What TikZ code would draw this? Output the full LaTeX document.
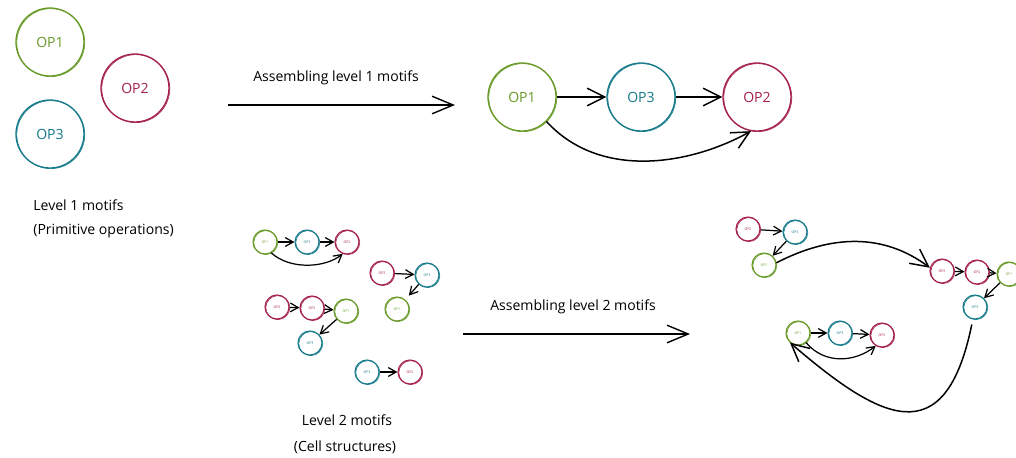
\documentclass[tikz,border=0pt]{standalone}
\usepackage{fontspec}
\setmainfont{Open Sans}
\usetikzlibrary{arrows.meta}
\definecolor{opgreen}{RGB}{104,154,40}
\definecolor{opred}{RGB}{164,32,78}
\definecolor{opteal}{RGB}{22,122,138}
\tikzset{
  op/.style={circle, draw=#1, text=#1, inner sep=0pt,
    postaction={draw=#1, line width=0.35pt, transform canvas={shift={(0.45pt,-0.35pt)}}}},
  bigop/.style={op=#1, minimum size=1.36cm, line width=0.75pt, font=\fontsize{8}{9.5}\selectfont},
  smallop/.style={op=#1, minimum size=0.48cm, line width=0.65pt, font=\fontsize{2}{2.4}\selectfont},
  lbl/.style={font=\fontsize{8}{9.5}\selectfont, text=black, inner sep=0pt},
  bigarrow/.style={line width=0.8pt, -{Straight Barb[length=12pt,width=10pt]}},
  midarrow/.style={line width=0.85pt, -{Straight Barb[length=10pt,width=10pt]}},
  tinyarrow/.style={line width=0.7pt, -{Straight Barb[length=4.5pt,width=5pt]}},
}
\begin{document}
\begin{tikzpicture}[x=0.02cm,y=-0.02cm]
\useasboundingbox (0,0) rectangle (1016,457);
% level 1 primitive ops
\node[bigop=opgreen] (p1) at (50,42) {OP1};
\node[bigop=opred] (p2) at (135,88) {OP2};
\node[bigop=opteal] (p3) at (50,134) {OP3};
\node[lbl, anchor=west] (l1a) at (33,205) {Level 1 motifs};
\node[lbl, anchor=west] (l1b) at (33,231) {(Primitive operations)};
% assembling level 1
\coordinate (a1s) at (228,105);
\coordinate (a1e) at (455,105);
\draw[bigarrow] (a1s) -- (a1e);
\node[lbl] (a1l) at (336,78) {Assembling level 1 motifs};
% level 1 motif assembled
\node[bigop=opgreen] (t1) at (522,97) {OP1};
\node[bigop=opteal] (t3) at (641,97) {OP3};
\node[bigop=opred] (t2) at (757,97) {OP2};
\draw[midarrow] (t1) -- (t3);
\draw[midarrow] (t3) -- (t2);
\draw[midarrow] (t1.-45) .. controls (600,180) and (690,165) .. (t2.-100);
% level 2 motifs (left)
\node[smallop=opgreen] (m1) at (265,242) {OP1};
\node[smallop=opteal] (m2) at (307,242) {OP3};
\node[smallop=opred] (m3) at (347,242) {OP2};
\draw[tinyarrow] (m1) -- (m2);
\draw[tinyarrow] (m2) -- (m3);
\draw[tinyarrow] (m1.-60) .. controls (290,270) and (325,268) .. (m3.-110);
\node[smallop=opred] (n1) at (382,273) {OP2};
\node[smallop=opteal] (n2) at (427,275) {OP3};
\node[smallop=opgreen] (n3) at (397,309) {OP1};
\draw[tinyarrow] (n1) -- (n2);
\draw[tinyarrow, shorten >=3pt] (n2) -- (n3);
\node[smallop=opred] (k1) at (277,307) {OP2};
\node[smallop=opred] (k2) at (312,308) {OP2};
\node[smallop=opgreen] (k3) at (346,311) {OP1};
\node[smallop=opteal] (k4) at (310,343) {OP3};
\draw[tinyarrow] (k1) -- (k2);
\draw[tinyarrow] (k2) -- (k3);
\draw[tinyarrow] (k3) -- (k4);
\node[smallop=opteal] (j1) at (367,372) {OP3};
\node[smallop=opred] (j2) at (410,372) {OP2};
\draw[tinyarrow] (j1) -- (j2);
\node[lbl] (l2a) at (347,420) {Level 2 motifs};
\node[lbl] (l2b) at (345,447) {(Cell structures)};
% assembling level 2
\coordinate (a2s) at (463,334);
\coordinate (a2e) at (690,334);
\draw[bigarrow] (a2s) -- (a2e);
\node[lbl] (a2l) at (573,307) {Assembling level 2 motifs};
% level 2 assembled
\node[smallop=opred] (r1) at (748,229) {OP2};
\node[smallop=opteal] (r2) at (795,232) {OP3};
\node[smallop=opgreen] (r3) at (764,265) {OP1};
\draw[tinyarrow] (r1) -- (r2);
\draw[tinyarrow] (r2) -- (r3);
\node[smallop=opred] (s1) at (942,271) {OP2};
\node[smallop=opred] (s2) at (977,272) {OP2};
\node[smallop=opgreen] (s3) at (1009,274) {OP1};
\node[smallop=opteal] (s4) at (975,307) {OP3};
\draw[tinyarrow] (s1) -- (s2);
\draw[tinyarrow] (s2) -- (s3);
\draw[tinyarrow] (s3) -- (s4);
\node[smallop=opgreen] (u1) at (798,333) {OP1};
\node[smallop=opteal] (u2) at (840,333) {OP3};
\node[smallop=opred] (u3) at (882,335) {OP2};
\draw[tinyarrow] (u1) -- (u2);
\draw[tinyarrow] (u2) -- (u3);
\draw[tinyarrow] (u1.-50) .. controls (825,365) and (855,362) .. (u3.-120);
\draw[midarrow] (r3.10) .. controls (840,230) and (890,238) .. (s1.165);
\draw[midarrow, shorten <=3pt] (s4.-100) .. controls (945,455) and (880,420) .. (u1.-130);
\end{tikzpicture}
\end{document}
